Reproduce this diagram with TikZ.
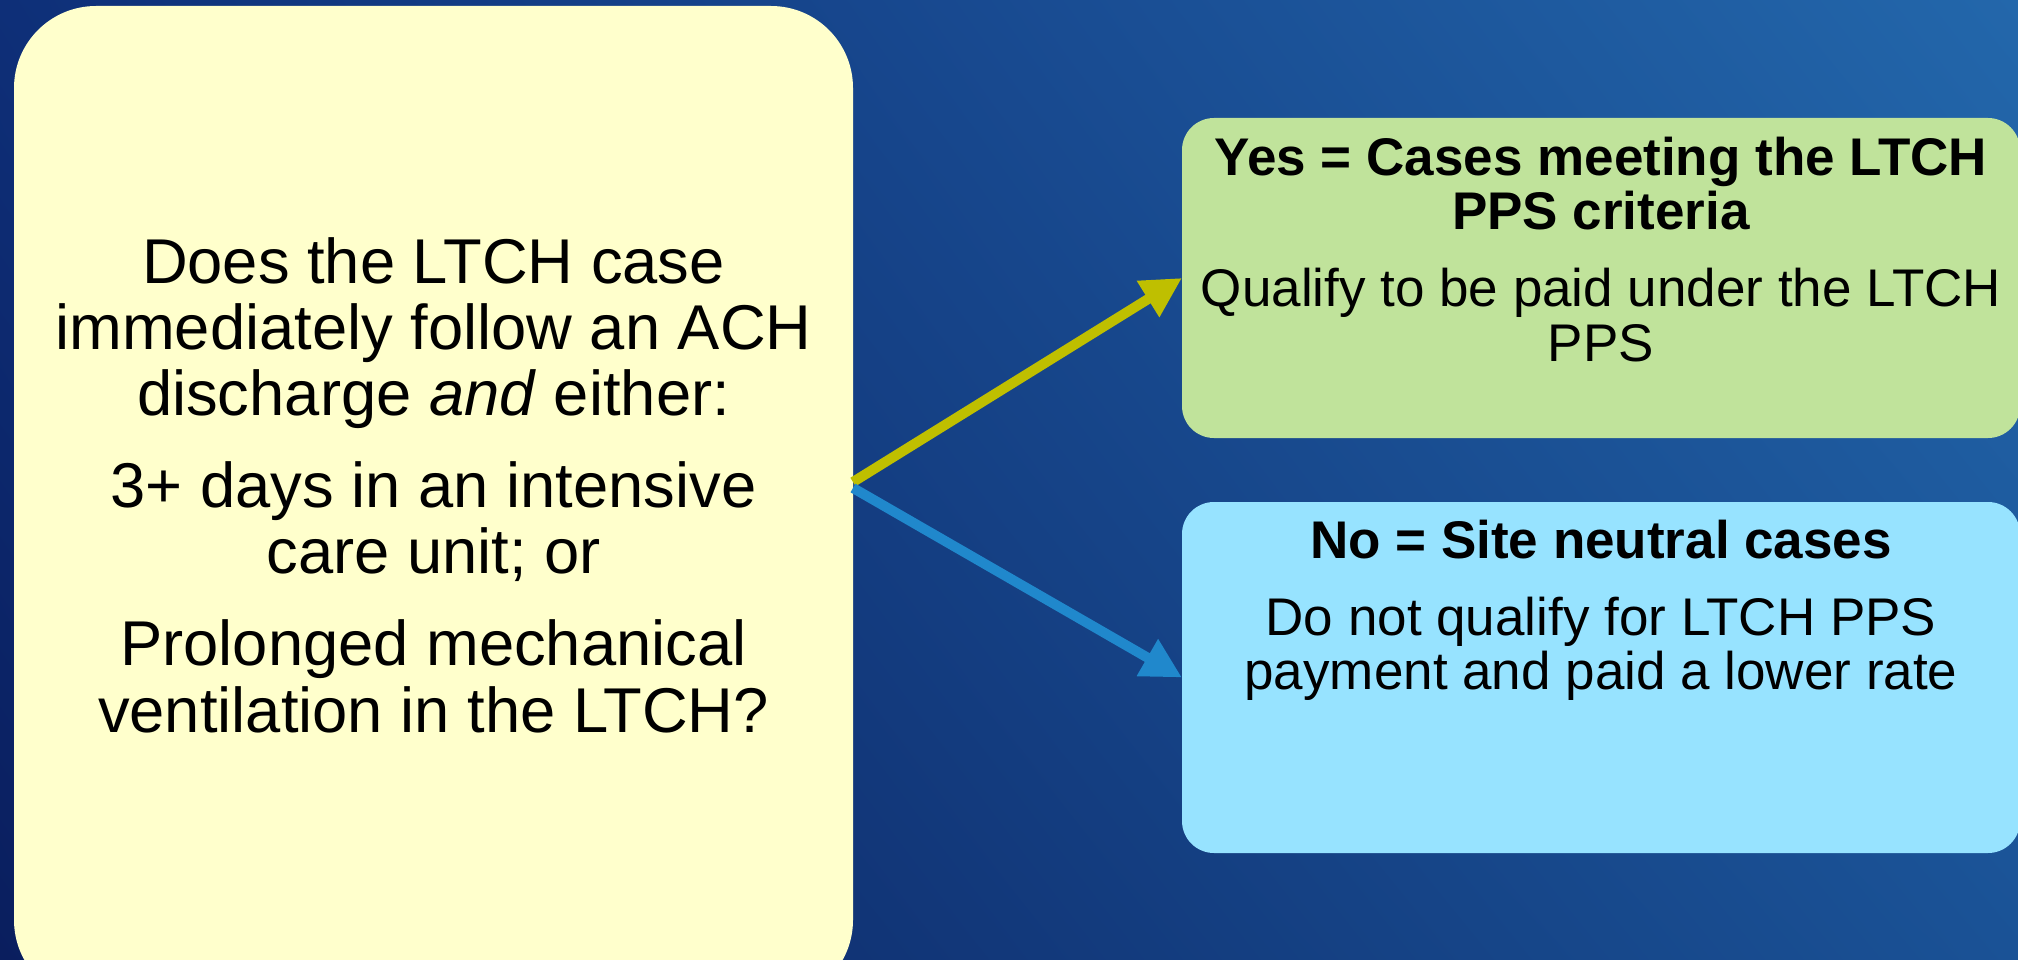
\documentclass[tikz,border=0pt]{standalone}
\usepackage{fontspec}
\setmainfont{Liberation Sans}
\usetikzlibrary{arrows.meta,calc,shadings}
\definecolor{bgUL}{HTML}{0E2F78}
\definecolor{bgUR}{HTML}{2367AB}
\definecolor{bgLL}{HTML}{0A1E5E}
\definecolor{bgLR}{HTML}{1A5296}
\definecolor{qfill}{HTML}{FFFFCC}
\definecolor{yesfill}{HTML}{C0E39B}
\definecolor{nofill}{HTML}{97E3FF}
\definecolor{yesarrow}{HTML}{BFBF00}
\definecolor{noarrow}{HTML}{2088CC}
\begin{document}
\begin{tikzpicture}[x=1pt,y=-1pt,
  box/.style={draw=none, inner sep=0pt, outer sep=0pt},
  qtext/.style={align=center, inner sep=0pt, text=black, font=\fontsize{63.3}{66.4}\selectfont},
  rtext/.style={align=center, inner sep=0pt, text=black, font=\fontsize{53}{54.5}\selectfont},
  conn/.style={line width=10pt, -{Triangle[length=40pt,width=40pt]}}
]
\useasboundingbox (0,0) rectangle (2018,960);
\clip (0,0) rectangle (2018,960);
\shade[upper left=bgUL, upper right=bgUR, lower left=bgLL, lower right=bgLR] (0,0) rectangle (2018,960);

\node[box, fill=qfill, minimum width=839pt, minimum height=996pt, rounded corners=82pt] (q) at (433.5,504) {};
\node[box, fill=yesfill, minimum width=838pt, minimum height=320pt, rounded corners=32pt] (yes) at (1601,278) {};
\node[box, fill=nofill, minimum width=838pt, minimum height=351pt, rounded corners=32pt] (no) at (1601,677.5) {};

\node[qtext, anchor=north] (qt) at (433.5,237) {Does the LTCH case\\ immediately follow an ACH\\ discharge \textit{and} either:\\[25.3pt] 3+ days in an intensive\\ care unit; or\\[25.3pt] Prolonged mechanical\\ ventilation in the LTCH?};

\node[rtext, anchor=north] (yest) at (1601,136.6) {\textbf{Yes = Cases meeting the LTCH}\\ \textbf{PPS criteria}\\[22.5pt] Qualify to be paid under the LTCH\\ PPS};

\node[rtext, anchor=north] (not) at (1601,519.7) {\textbf{No = Site neutral cases}\\[22.5pt] Do not qualify for LTCH PPS\\ payment and paid a lower rate};

\draw[conn, draw=yesarrow, fill=yesarrow] ([yshift=22pt]q.east) -- (yes.west);
\draw[conn, draw=noarrow, fill=noarrow] ([yshift=16pt]q.east) -- (no.west);
\end{tikzpicture}
\end{document}
